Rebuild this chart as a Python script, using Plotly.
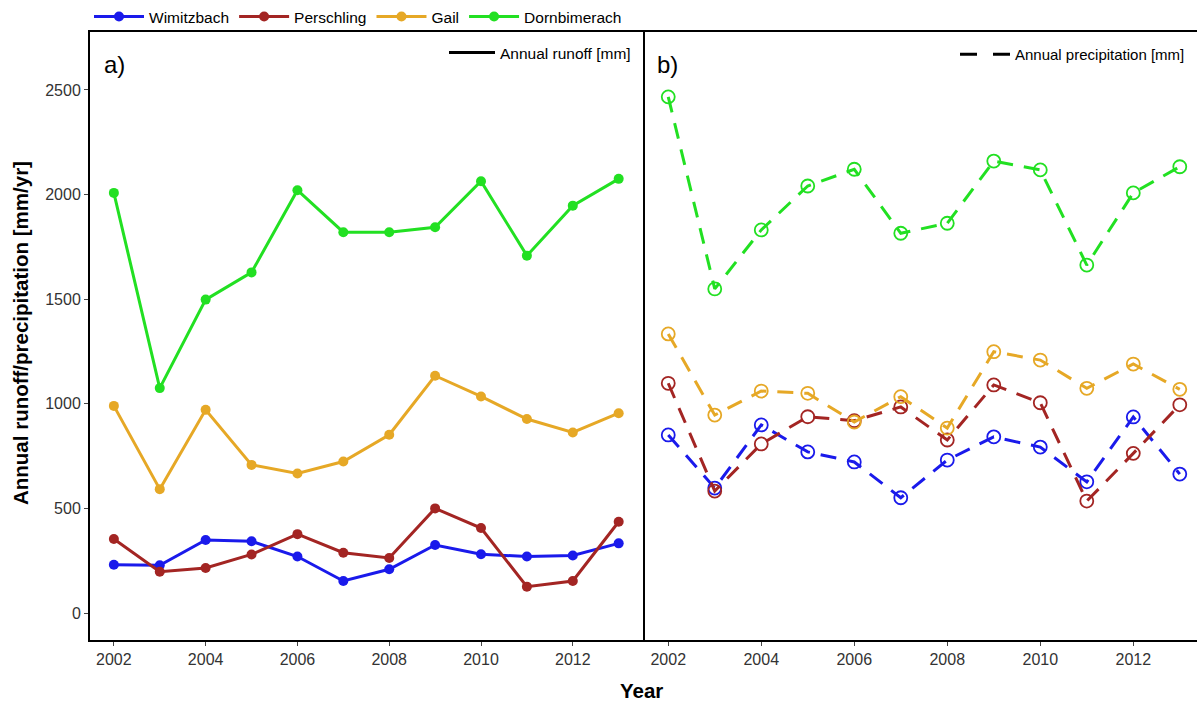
import plotly.graph_objects as go

years = list(range(2002, 2014))
sites = ["Wimitzbach", "Perschling", "Gail", "Dornbimerach"]
colors = ["#1a1aeb", "#a32523", "#e6a826", "#22e022"]

runoff_wimitzbach = [231, 228, 349, 343, 270, 153, 209, 325, 281, 270, 275, 333]
runoff_perschling = [354, 197, 215, 280, 377, 288, 263, 500, 406, 126, 153, 436]
runoff_gail = [990, 592, 971, 708, 667, 724, 852, 1134, 1035, 927, 863, 955]
runoff_dornbirnerach = [2008, 1075, 1498, 1628, 2021, 1820, 1820, 1844, 2064, 1708, 1947, 2075]

precip_wimitzbach = [851, 597, 899, 770, 722, 551, 731, 842, 793, 627, 937, 664]
precip_perschling = [1098, 583, 808, 938, 919, 985, 827, 1090, 1005, 535, 763, 995]
precip_gail = [1334, 946, 1061, 1050, 913, 1034, 884, 1249, 1209, 1074, 1190, 1069]
precip_dornbirnerach = [2467, 1549, 1831, 2041, 2121, 1815, 1863, 2160, 2118, 1663, 2008, 2133]

y_ticks = [0, 500, 1000, 1500, 2000, 2500]
x_ticks = [2002, 2004, 2006, 2008, 2010, 2012]

runoff = [runoff_wimitzbach, runoff_perschling, runoff_gail, runoff_dornbirnerach]
precip = [precip_wimitzbach, precip_perschling, precip_gail, precip_dornbirnerach]

W, H = 1197, 702
FONT = "Liberation Sans, Arial, sans-serif"

fig = go.Figure()

for name, col, vals in zip(sites, colors, runoff):
    fig.add_trace(go.Scatter(
        x=years, y=vals, name=name, mode="lines+markers",
        line=dict(color=col, width=3),
        marker=dict(color=col, size=10),
        xaxis="x", yaxis="y", legend="legend",
    ))

for name, col, vals in zip(sites, colors, precip):
    fig.add_trace(go.Scatter(
        x=years, y=vals, name=name, mode="lines+markers", showlegend=False,
        line=dict(color=col, width=3, dash="16px,11px"),
        marker=dict(color=col, size=13, symbol="circle-open", line=dict(width=1.8, color=col)),
        xaxis="x2", yaxis="y2",
    ))

# legend keys for line types
fig.add_trace(go.Scatter(x=[None], y=[None], name="Annual runoff [mm]", mode="lines",
                         line=dict(color="black", width=3), xaxis="x", yaxis="y", legend="legend2"))
fig.add_trace(go.Scatter(x=[None], y=[None], name="Annual precipitation [mm]", mode="lines",
                         line=dict(color="black", width=3, dash="17px,16px"), xaxis="x2", yaxis="y2",
                         legend="legend3"))

px_x = lambda p: p / W
px_y = lambda p: 1 - p / H

axis_common = dict(
    showgrid=False, zeroline=False, showline=True, linecolor="black", linewidth=2,
    ticks="outside", ticklen=4, tickcolor="#444", tickwidth=1,
    tickfont=dict(family=FONT, size=16, color="#333"),
)

fig.update_layout(
    width=W, height=H,
    margin=dict(l=0, r=0, t=0, b=0),
    paper_bgcolor="white", plot_bgcolor="white",
    font=dict(family=FONT, color="black"),
    xaxis=dict(domain=[px_x(90), px_x(643)], range=[2001.48, 2013.53], tickvals=x_ticks,
               mirror=True, anchor="y", **axis_common),
    yaxis=dict(domain=[px_y(640), px_y(32)], range=[-129, 2777], tickvals=y_ticks,
               mirror=True, anchor="x", **axis_common),
    xaxis2=dict(domain=[px_x(645), 1.0], range=[2001.5, 2013.37], tickvals=x_ticks,
                mirror=True, anchor="y2", **axis_common),
    yaxis2=dict(domain=[px_y(640), px_y(32)], range=[-129, 2777], tickvals=y_ticks,
                showticklabels=False, ticks="", showgrid=False, zeroline=False,
                showline=True, linecolor="black", linewidth=2, mirror=False, anchor="x2"),
    legend=dict(orientation="h", x=px_x(89), y=1.0, xanchor="left", yanchor="top",
                font=dict(family=FONT, size=15.5, color="black"), bgcolor="rgba(0,0,0,0)",
                itemwidth=50, tracegroupgap=0),
    legend2=dict(x=px_x(636), y=px_y(36), xanchor="right", yanchor="top",
                 font=dict(family=FONT, size=15.5, color="black"), bgcolor="rgba(0,0,0,0)",
                 itemwidth=46),
    legend3=dict(x=px_x(1190), y=px_y(38), xanchor="right", yanchor="top",
                 font=dict(family=FONT, size=15, color="black"), bgcolor="rgba(0,0,0,0)",
                 itemwidth=50),
    annotations=[
        dict(text="a)", x=px_x(102), y=px_y(65), xref="paper", yref="paper", showarrow=False,
             xanchor="left", yanchor="middle", font=dict(family=FONT, size=24, color="black")),
        dict(text="b)", x=px_x(655), y=px_y(65), xref="paper", yref="paper", showarrow=False,
             xanchor="left", yanchor="middle", font=dict(family=FONT, size=24, color="black")),
        dict(text="<b>Annual runoff/precipitation [mm/yr]</b>", x=px_x(20), y=px_y(333),
             xref="paper", yref="paper", showarrow=False, textangle=-90,
             xanchor="center", yanchor="middle", font=dict(family=FONT, size=20.5, color="black")),
        dict(text="<b>Year</b>", x=px_x(641), y=px_y(690), xref="paper", yref="paper",
             showarrow=False, xanchor="center", yanchor="middle",
             font=dict(family=FONT, size=20.5, color="black")),
    ],
)

fig.write_html("out.html")
